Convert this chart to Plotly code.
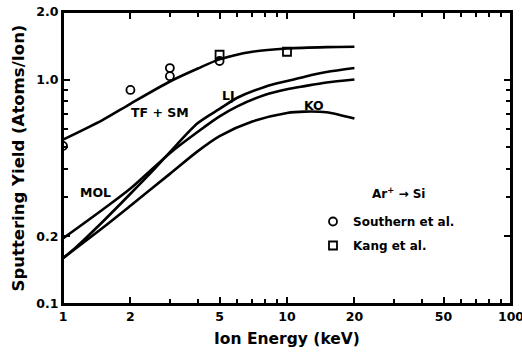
import plotly.graph_objects as go

# ---- data ----
energy_tfsm = [1, 1.5, 2, 3, 4, 5, 7, 10, 15, 20]
yield_tfsm = [0.54, 0.66, 0.78, 0.98, 1.12, 1.23, 1.33, 1.375, 1.395, 1.40]

energy_lj = [1, 1.15, 1.5, 2, 2.5, 3, 4, 5, 6, 8, 10, 12, 15, 20]
yield_lj = [0.16, 0.18, 0.232, 0.31, 0.39, 0.475, 0.64, 0.74, 0.83, 0.93, 0.985, 1.03, 1.08, 1.126]

energy_mol = [1, 1.5, 2, 3, 4, 5, 6, 8, 10, 12, 15, 20]
yield_mol = [0.196, 0.263, 0.327, 0.47, 0.585, 0.685, 0.76, 0.855, 0.905, 0.935, 0.97, 1.0]

energy_ko = [1, 1.5, 2, 3, 4, 5, 7, 10, 12, 15, 20]
yield_ko = [0.16, 0.218, 0.274, 0.38, 0.48, 0.56, 0.65, 0.71, 0.72, 0.715, 0.67]

energy_southern = [1, 2, 3, 3, 5]
yield_southern = [0.506, 0.899, 1.125, 1.035, 1.21]

energy_kang = [5, 10]
yield_kang = [1.29, 1.33]

x_tickvals = [1, 2, 5, 10, 20, 50, 100]
x_ticktext = ["1", "2", "5", "10", "20", "50", "100"]
x_minor = [3, 4, 6, 7, 8, 9, 30, 40, 60, 70, 80, 90]
y_tickvals = [0.1, 0.2, 1.0, 2.0]
y_ticktext = ["0.1", "0.2", "1.0", "2.0"]
y_minor = [0.3, 0.4, 0.5, 0.6, 0.7, 0.8, 0.9]

FONT = "DejaVu Sans"
line_style = dict(color="black", width=2.6, shape="spline", smoothing=0.8)
marker_line = dict(width=1.8, color="black")

fig = go.Figure()
for ex, yy, nm in [(energy_tfsm, yield_tfsm, "TF + SM"), (energy_lj, yield_lj, "LJ"),
                   (energy_mol, yield_mol, "MOL"), (energy_ko, yield_ko, "KO")]:
    fig.add_trace(go.Scatter(x=ex, y=yy, mode="lines", line=line_style, name=nm,
                             showlegend=False))

fig.add_trace(go.Scatter(x=energy_southern, y=yield_southern, mode="markers",
                         name="<b>Southern et al.</b>", legendgroup="a",
                         marker=dict(symbol="circle-open", size=8, color="black",
                                     line=marker_line)))
fig.add_trace(go.Scatter(x=energy_kang, y=yield_kang, mode="markers",
                         name="<b>Kang et al.</b>", legendgroup="b",
                         marker=dict(symbol="square-open", size=8, color="black",
                                     line=marker_line)))

fig.update_layout(
    width=522, height=353,
    margin=dict(l=63, r=11, t=12, b=49),
    paper_bgcolor="white", plot_bgcolor="white",
    legend=dict(x=(313 - 63) / 448, y=(304 - 207) / 292, xanchor="left", yanchor="top",
                bgcolor="rgba(0,0,0,0)", borderwidth=0, tracegroupgap=5,
                font=dict(family=FONT, size=12, color="black")),
)
fig.update_xaxes(type="log", range=[0, 2], showline=True, linecolor="black", linewidth=2,
                 mirror="ticks", ticks="inside", ticklen=7, tickwidth=2, tickcolor="black",
                 tickvals=x_tickvals, ticktext=["<b>%s</b>" % t for t in x_ticktext],
                 tickfont=dict(family=FONT, size=12.5, color="black"),
                 minor=dict(ticks="inside", ticklen=5, tickwidth=1.5, tickcolor="black",
                            tickvals=x_minor),
                 ticklabeloverflow="allow", automargin=False,
                 title=dict(text="<b>Ion Energy (keV)</b>", standoff=10,
                            font=dict(family=FONT, size=15.5, color="black")))
fig.update_yaxes(type="log", range=[-1, 0.30103], showline=True, linecolor="black",
                 linewidth=2, mirror="ticks", ticks="inside", ticklen=7, tickwidth=2,
                 tickcolor="black",
                 tickvals=y_tickvals, ticktext=["<b>%s</b>" % t for t in y_ticktext],
                 tickfont=dict(family=FONT, size=12.5, color="black"),
                 minor=dict(ticks="inside", ticklen=5, tickwidth=1.5, tickcolor="black",
                            tickvals=y_minor),
                 automargin=False,
                 title=dict(text="<b>Sputtering Yield (Atoms/Ion)</b>", standoff=8,
                            font=dict(family=FONT, size=16.5, color="black")))

# plot frame
fig.add_shape(type="rect", xref="paper", yref="paper", x0=0, y0=0, x1=1, y1=1,
              line=dict(color="black", width=2), fillcolor="rgba(0,0,0,0)", layer="above")

def label(text, px, py, anchor="center", size=12.5):
    # px, py are pixel positions on the 522x353 canvas -> convert to paper coords
    fig.add_annotation(text="<b>%s</b>" % text, x=(px - 63) / 448, y=(304 - py) / 292,
                       xref="paper", yref="paper", showarrow=False,
                       font=dict(family=FONT, size=size, color="black"),
                       xanchor=anchor, yanchor="middle")

label("TF + SM", 160, 112)
label("LJ", 228, 95)
label("KO", 314, 105)
label("MOL", 95, 193)
label("Ar<sup>+</sup> \u2192 Si", 398, 193, size=12)

fig.write_html("out.html", config={"displayModeBar": False},
               post_script="document.body.style.margin='0';")
